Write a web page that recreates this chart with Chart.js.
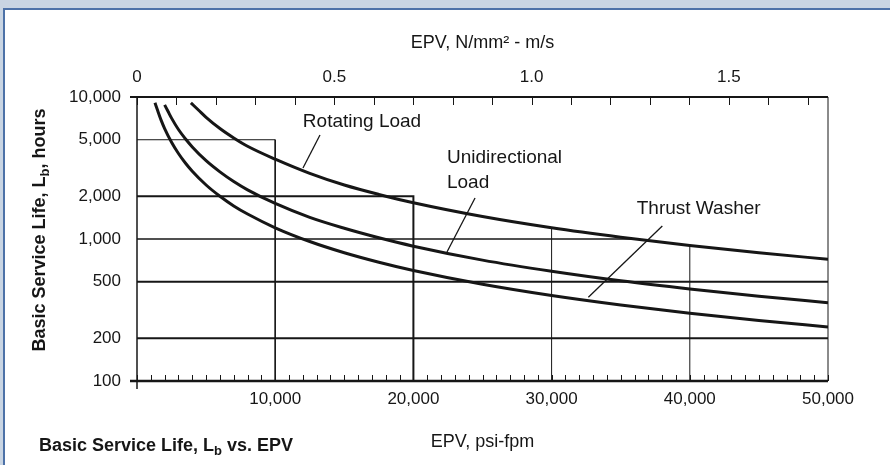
<!DOCTYPE html>
<html>

<head>
    <meta charset="utf-8">
    <title>Basic Service Life vs. EPV</title>
    <script src="https://cdn.jsdelivr.net/npm/chart.js@4"></script>
    <style>
        html, body { margin: 0; padding: 0; }
        body { width: 890px; height: 465px; background: #c9d5e3; position: relative; overflow: hidden; }
        #panel { position: absolute; left: 3px; top: 8px; right: 0; bottom: 0; background: #fff;
                 border-left: 2px solid #4d72a8; border-top: 2px solid #4d72a8; }
        #lifeChart { position: absolute; left: 0; top: 0; }
    </style>
</head>

<body>
    <div id="panel"></div>
    <canvas id="lifeChart" width="890" height="465"></canvas>

    <script>
        // EPV in psi-fpm (bottom axis) against service life in hours (log axis)
        const rotatingEpv = [3900, 4500, 5000, 6000, 7000, 8000, 10000, 12500, 15000, 17500, 20000, 25000, 30000, 35000, 40000, 45000, 50000];
        const rotatingLife = [9100, 8000, 7200, 6000, 5150, 4500, 3650, 2900, 2400, 2060, 1800, 1440, 1200, 1030, 900, 800, 720];

        const unidirectionalEpv = [2000, 2250, 2500, 3000, 3500, 4000, 5000, 6000, 7000, 8000, 10000, 12500, 15000, 17500, 20000, 25000, 30000, 35000, 40000, 45000, 50000];
        const unidirectionalLife = [8800, 7900, 7100, 5900, 5080, 4450, 3560, 2970, 2540, 2220, 1780, 1420, 1190, 1020, 890, 710, 593, 508, 445, 395, 356];

        const thrustEpv = [1300, 1500, 1750, 2000, 2500, 3000, 3500, 4000, 5000, 6000, 7000, 8000, 10000, 12500, 15000, 17500, 20000, 25000, 30000, 35000, 40000, 45000, 50000];
        const thrustLife = [9100, 8000, 6850, 6000, 4800, 4000, 3430, 3000, 2400, 2000, 1710, 1500, 1200, 960, 800, 686, 600, 480, 400, 343, 300, 267, 240];

        // reading lines across the grid
        const guide5000 = [[0, 5000], [10000, 5000], [10000, 100]];
        const guide2000 = [[0, 2000], [20000, 2000], [20000, 100]];
        const guide1000 = [[0, 1000], [36000, 1000]];
        const guide500 = [[0, 500], [50000, 500]];
        const guide200 = [[0, 200], [50000, 200]];
        const drop30k = [[30000, 100], [30000, 1200]];
        const drop40k = [[40000, 100], [40000, 900]];

        // leader lines from the curve names to the curves
        const rotatingLeader = [[13240, 5400], [12010, 3160]];
        const unidirectionalLeader = [[24460, 1944], [22430, 810]];
        const thrustLeader = [[38010, 1233], [32660, 389]];

        const curveNames = ['Rotating Load', 'Unidirectional', 'Load', 'Thrust Washer'];
        const curveNameEpv = [12000, 22430, 22430, 36160];
        const curveNameLife = [6670, 3750, 2500, 1627];

        // axes
        const hourTicks = [100, 200, 500, 1000, 2000, 5000, 10000];
        const psiLabelTicks = [10000, 20000, 30000, 40000, 50000];
        const psiStep = 1000;
        const metricLabelTicks = [0, 0.5, 1.0, 1.5];
        const metricStep = 0.1;
        const epvMax = 50000;
        const PSI_FPM_PER_SI = 28550; // 1 N/mm² · m/s expressed in psi-fpm

        const INK = '#161616';
        const FONT = "'Liberation Sans', Arial, sans-serif";

        const psiTicks = [];
        for (let v = 0; v <= epvMax; v += psiStep) psiTicks.push(v);
        const metricTicks = [];
        for (let i = 0; i * metricStep <= epvMax / PSI_FPM_PER_SI; i++) metricTicks.push(Math.round(i * metricStep * 10) / 10);

        const toPoints = (xs, ys) => xs.map((x, i) => ({ x: x, y: ys[i] }));
        const fromPairs = (list) => list.map(p => ({ x: p[0], y: p[1] }));

        function curve(label, xs, ys) {
            return {
                label: label, data: toPoints(xs, ys), borderColor: INK, borderWidth: 3,
                pointRadius: 0, cubicInterpolationMode: 'monotone', order: 0
            };
        }

        function rule(list, width) {
            return {
                data: fromPairs(list), borderColor: INK, borderWidth: width,
                pointRadius: 0, tension: 0, order: 1, borderCapStyle: 'butt'
            };
        }

        // subscripted text, drawn left to right from x along baseline y
        function drawParts(ctx, parts, x, y, size, weight) {
            let cx = x;
            parts.forEach(function (p) {
                const sub = p[1];
                ctx.font = weight + ' ' + (sub ? Math.round(size * 0.7) : size) + 'px ' + FONT;
                ctx.fillText(p[0], cx, sub ? y + size * 0.24 : y);
                cx += ctx.measureText(p[0]).width;
            });
            return cx - x;
        }

        function partsWidth(ctx, parts, size, weight) {
            let w = 0;
            parts.forEach(function (p) {
                ctx.font = weight + ' ' + (p[1] ? Math.round(size * 0.7) : size) + 'px ' + FONT;
                w += ctx.measureText(p[0]).width;
            });
            return w;
        }

        const frame = {
            id: 'frame',
            afterDraw(chart) {
                const { ctx, chartArea: a, scales } = chart;
                const line = (w, x1, y1, x2, y2) => {
                    ctx.lineWidth = w;
                    ctx.beginPath(); ctx.moveTo(x1, y1); ctx.lineTo(x2, y2); ctx.stroke();
                };
                ctx.save();
                ctx.strokeStyle = INK;
                line(2, a.left - 7, a.top, a.right, a.top);
                line(2.5, a.left - 7, a.bottom, a.right, a.bottom);
                line(1.5, a.left, a.top, a.left, a.bottom + 8);
                line(1, a.right, a.top, a.right, a.bottom);

                // tick marks point into the plot
                scales.x.ticks.forEach(t => {
                    const px = Math.round(scales.x.getPixelForValue(t.value)) + 0.5;
                    line(1, px, a.bottom, px, a.bottom - 6);
                });
                scales.x2.ticks.forEach(t => {
                    const px = Math.round(scales.x2.getPixelForValue(t.value)) + 0.5;
                    line(1, px, a.top, px, a.top + 8);
                });

                // curve names
                ctx.fillStyle = INK;
                ctx.font = '19px ' + FONT;
                ctx.textBaseline = 'middle';
                ctx.textAlign = 'left';
                curveNames.forEach((name, i) => {
                    ctx.fillText(name, scales.x.getPixelForValue(curveNameEpv[i]), scales.y.getPixelForValue(curveNameLife[i]));
                });

                // vertical axis title
                ctx.textBaseline = 'alphabetic';
                const yTitle = [['Basic Service Life, L', false], ['b', true], [', hours', false]];
                const w = partsWidth(ctx, yTitle, 18, 'bold');
                ctx.translate(45, (a.top + a.bottom) / 2 - 9);
                ctx.rotate(-Math.PI / 2);
                drawParts(ctx, yTitle, -w / 2, 0, 18, 'bold');
                ctx.restore();

                // caption under the plot
                ctx.save();
                ctx.fillStyle = INK;
                ctx.textBaseline = 'alphabetic';
                drawParts(ctx, [['Basic Service Life, L', false], ['b', true], [' vs. EPV', false]], 39, 451, 18, 'bold');
                ctx.restore();
            }
        };

        const tickFont = { family: FONT, size: 17 };
        const titleFont = { family: FONT, size: 18 };

        new Chart(document.getElementById('lifeChart').getContext('2d'), {
            type: 'line',
            data: {
                datasets: [
                    curve('Rotating Load', rotatingEpv, rotatingLife),
                    curve('Unidirectional Load', unidirectionalEpv, unidirectionalLife),
                    curve('Thrust Washer', thrustEpv, thrustLife),
                    rule(guide5000, 1),
                    rule(guide2000, 2),
                    rule(guide1000, 1.7),
                    rule(guide500, 2.2),
                    rule(guide200, 1.8),
                    rule(drop30k, 1),
                    rule(drop40k, 1),
                    rule(rotatingLeader, 1.3),
                    rule(unidirectionalLeader, 1.3),
                    rule(thrustLeader, 1.3)
                ]
            },
            options: {
                responsive: false,
                animation: false,
                layout: { padding: { left: 0, right: 62, top: 0, bottom: 0 } },
                plugins: { legend: { display: false }, tooltip: { enabled: false } },
                scales: {
                    x: {
                        type: 'linear', position: 'bottom', min: 0, max: epvMax,
                        grid: { display: false, drawTicks: false },
                        border: { display: false },
                        afterBuildTicks: s => { s.ticks = psiTicks.map(v => ({ value: v })); },
                        ticks: {
                            autoSkip: false, maxRotation: 0, padding: 8, color: INK, font: tickFont,
                            callback: v => psiLabelTicks.includes(v) ? v.toLocaleString('en-US') : ''
                        },
                        title: { display: true, text: 'EPV, psi-fpm', color: INK, font: titleFont, padding: { top: 0, bottom: 12 } },
                        afterFit: s => { s.height = 84; }
                    },
                    x2: {
                        type: 'linear', position: 'top', min: 0, max: epvMax / PSI_FPM_PER_SI,
                        grid: { display: false, drawTicks: false },
                        border: { display: false },
                        afterBuildTicks: s => { s.ticks = metricTicks.map(v => ({ value: v })); },
                        ticks: {
                            autoSkip: false, maxRotation: 0, padding: 9, color: INK, font: tickFont,
                            callback: v => metricLabelTicks.includes(v) ? (v === 0 ? '0' : v.toFixed(1)) : ''
                        },
                        title: { display: true, text: 'EPV, N/mm² - m/s', color: INK, font: titleFont, padding: { top: 32, bottom: 0 } },
                        afterFit: s => { s.height = 97; }
                    },
                    y: {
                        type: 'logarithmic', min: 100, max: 10000,
                        grid: { display: false, drawTicks: false },
                        border: { display: false },
                        afterBuildTicks: s => { s.ticks = hourTicks.map(v => ({ value: v })); },
                        ticks: {
                            autoSkip: false, padding: 16, color: INK, font: tickFont,
                            callback: v => v.toLocaleString('en-US')
                        },
                        afterFit: s => { s.width = 137; }
                    }
                }
            },
            plugins: [frame]
        });
    </script>
</body>

</html>
